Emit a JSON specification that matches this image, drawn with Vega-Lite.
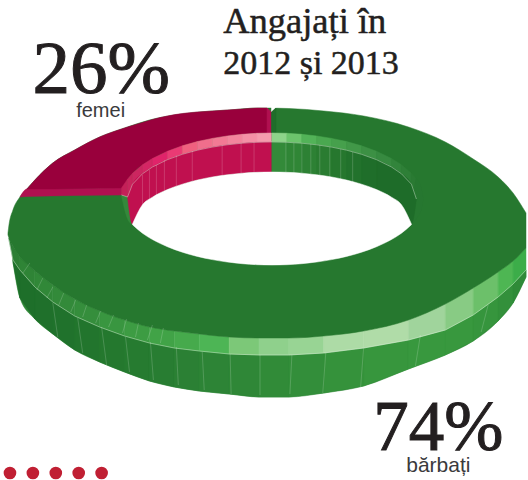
{"$schema":"https://vega.github.io/schema/vega-lite/v6.json","width":528,"height":480,"padding":0,"autosize":{"type":"fit","contains":"padding"},"background":"white","config":{"view":{"stroke":null}},
"layer":[
{"data":{"values":[
{"p":"w00","x":13,"y":260,"y2":262},{"p":"w00","x":20,"y":270,"y2":298},{"p":"w00","x":35,"y":287,"y2":319},{"p":"w00","x":53,"y":302,"y2":334},{"p":"w00","x":75,"y":316,"y2":350},{"p":"w00","x":100,"y":327,"y2":362},{"p":"w00","x":125,"y":336,"y2":372},{"p":"w00","x":150,"y":343,"y2":381},{"p":"w00","x":175,"y":348,"y2":387},{"p":"w00","x":200,"y":351,"y2":391},{"p":"w00","x":230,"y":354,"y2":394},{"p":"w00","x":260,"y":355,"y2":397},{"p":"w00","x":290,"y":355,"y2":397},{"p":"w00","x":325,"y":353,"y2":393},{"p":"w00","x":365,"y":348,"y2":386},{"p":"w00","x":410,"y":340,"y2":369},{"p":"w00","x":447,"y":330,"y2":355},{"p":"w00","x":475,"y":315,"y2":341},{"p":"w00","x":500,"y":297,"y2":321},{"p":"w00","x":515,"y":284,"y2":303},{"p":"w00","x":528,"y":270,"y2":277},
{"p":"w01","x":13,"y":260,"y2":262},{"p":"w01","x":20,"y":270,"y2":298},
{"p":"w02","x":20,"y":270,"y2":298},{"p":"w02","x":35,"y":287,"y2":319},
{"p":"w03","x":35,"y":287,"y2":319},{"p":"w03","x":53,"y":302,"y2":334},
{"p":"w04","x":53,"y":302,"y2":334},{"p":"w04","x":75,"y":316,"y2":350},
{"p":"w05","x":75,"y":316,"y2":350},{"p":"w05","x":100,"y":327,"y2":362},
{"p":"w06","x":100,"y":327,"y2":362},{"p":"w06","x":125,"y":336,"y2":372},
{"p":"w07","x":125,"y":336,"y2":372},{"p":"w07","x":150,"y":343,"y2":381},
{"p":"w08","x":150,"y":343,"y2":381},{"p":"w08","x":175,"y":348,"y2":387},
{"p":"w09","x":175,"y":348,"y2":387},{"p":"w09","x":200,"y":351,"y2":391},
{"p":"w10","x":200,"y":351,"y2":391},{"p":"w10","x":230,"y":354,"y2":394},
{"p":"w11","x":230,"y":354,"y2":394},{"p":"w11","x":260,"y":355,"y2":397},
{"p":"w12","x":260,"y":355,"y2":397},{"p":"w12","x":290,"y":355,"y2":397},
{"p":"w13","x":290,"y":355,"y2":397},{"p":"w13","x":325,"y":353,"y2":393},
{"p":"w14","x":325,"y":353,"y2":393},{"p":"w14","x":365,"y":348,"y2":386},
{"p":"w15","x":365,"y":348,"y2":386},{"p":"w15","x":410,"y":340,"y2":369},
{"p":"w16","x":410,"y":340,"y2":369},{"p":"w16","x":447,"y":330,"y2":355},
{"p":"w17","x":447,"y":330,"y2":355},{"p":"w17","x":475,"y":315,"y2":341},
{"p":"w18","x":475,"y":315,"y2":341},{"p":"w18","x":500,"y":297,"y2":321},
{"p":"w19","x":500,"y":297,"y2":321},{"p":"w19","x":515,"y":284,"y2":303},
{"p":"w20","x":515,"y":284,"y2":303},{"p":"w20","x":528,"y":270,"y2":277},
{"p":"b00","x":9,"y":238,"y2":240},{"p":"b00","x":13,"y":246,"y2":260},
{"p":"b01","x":13,"y":246,"y2":260},{"p":"b01","x":20,"y":257,"y2":270},
{"p":"b02","x":20,"y":257,"y2":270},{"p":"b02","x":35,"y":271,"y2":287},
{"p":"b03","x":35,"y":271,"y2":287},{"p":"b03","x":53,"y":285,"y2":302},
{"p":"b04","x":53,"y":285,"y2":302},{"p":"b04","x":75,"y":299,"y2":316},
{"p":"b05","x":75,"y":299,"y2":316},{"p":"b05","x":100,"y":311,"y2":327},
{"p":"b06","x":100,"y":311,"y2":327},{"p":"b06","x":125,"y":320,"y2":336},
{"p":"b07","x":125,"y":320,"y2":336},{"p":"b07","x":150,"y":327,"y2":343},
{"p":"b08","x":150,"y":327,"y2":343},{"p":"b08","x":175,"y":331,"y2":348},
{"p":"b09","x":175,"y":331,"y2":348},{"p":"b09","x":200,"y":334,"y2":351},
{"p":"b10","x":200,"y":334,"y2":351},{"p":"b10","x":230,"y":337,"y2":354},
{"p":"b11","x":230,"y":337,"y2":354},{"p":"b11","x":260,"y":338,"y2":355},
{"p":"b12","x":260,"y":338,"y2":355},{"p":"b12","x":290,"y":338,"y2":355},
{"p":"b13","x":290,"y":338,"y2":355},{"p":"b13","x":325,"y":336,"y2":353},
{"p":"b14","x":325,"y":336,"y2":353},{"p":"b14","x":365,"y":331,"y2":348},
{"p":"b15","x":365,"y":331,"y2":348},{"p":"b15","x":410,"y":320,"y2":340},
{"p":"b16","x":410,"y":320,"y2":340},{"p":"b16","x":447,"y":304,"y2":330},
{"p":"b17","x":447,"y":304,"y2":330},{"p":"b17","x":475,"y":288,"y2":315},
{"p":"b18","x":475,"y":288,"y2":315},{"p":"b18","x":500,"y":272,"y2":297},
{"p":"b19","x":500,"y":272,"y2":297},{"p":"b19","x":515,"y":261,"y2":284},
{"p":"b20","x":515,"y":261,"y2":284},{"p":"b20","x":528,"y":248,"y2":270},
{"p":"f","x":8,"y":233,"y2":235},{"p":"f","x":9,"y":225,"y2":238},{"p":"f","x":13,"y":210,"y2":246},{"p":"f","x":20,"y":197,"y2":257},{"p":"f","x":27,"y":189,"y2":264},{"p":"f","x":35,"y":180,"y2":271},{"p":"f","x":53,"y":163,"y2":285},{"p":"f","x":75,"y":150,"y2":299},{"p":"f","x":100,"y":137,"y2":311},{"p":"f","x":125,"y":128,"y2":320},{"p":"f","x":150,"y":120,"y2":327},{"p":"f","x":175,"y":115,"y2":331},{"p":"f","x":200,"y":112,"y2":334},{"p":"f","x":230,"y":110,"y2":337},{"p":"f","x":260,"y":108,"y2":338},{"p":"f","x":290,"y":108.5,"y2":338},{"p":"f","x":325,"y":111,"y2":336},{"p":"f","x":365,"y":116,"y2":331},{"p":"f","x":410,"y":127,"y2":320},{"p":"f","x":447,"y":142,"y2":304},{"p":"f","x":475,"y":159,"y2":288},{"p":"f","x":500,"y":177,"y2":272},{"p":"f","x":515,"y":193,"y2":261},{"p":"f","x":528,"y":213,"y2":248},
{"p":"s","x":20,"y":197,"y2":197},{"p":"s","x":27,"y":189,"y2":196.5},{"p":"s","x":122,"y":188,"y2":195},
{"p":"c","x":27,"y":189,"y2":189},{"p":"c","x":35,"y":180,"y2":189},{"p":"c","x":53,"y":163,"y2":189},{"p":"c","x":75,"y":150,"y2":188.5},{"p":"c","x":100,"y":137,"y2":188},{"p":"c","x":122,"y":129,"y2":188},{"p":"c","x":128,"y":127,"y2":179.2},{"p":"c","x":133,"y":125.5,"y2":173.3},{"p":"c","x":143,"y":122.5,"y2":164.8},{"p":"c","x":153,"y":119.5,"y2":158.5},{"p":"c","x":168,"y":116,"y2":151.3},{"p":"c","x":183,"y":113.5,"y2":145.8},{"p":"c","x":198,"y":112,"y2":141.6},{"p":"c","x":213,"y":111,"y2":138.4},{"p":"c","x":228,"y":110,"y2":136},{"p":"c","x":243,"y":109,"y2":134.3},{"p":"c","x":258,"y":108,"y2":133.3},{"p":"c","x":268,"y":108,"y2":133},
{"p":"n","x":272.5,"y":106,"y2":112},{"p":"n","x":277,"y":106,"y2":107.5},
{"p":"k","x":268,"y":108,"y2":133},{"p":"k","x":272.5,"y":112,"y2":141},
{"p":"g","x":272.5,"y":112,"y2":141},{"p":"g","x":277,"y":108,"y2":133},
{"p":"i01","x":122,"y":188,"y2":195},{"p":"i01","x":128,"y":179.2,"y2":197},
{"p":"i02","x":128,"y":179.2,"y2":197},{"p":"i02","x":133,"y":173.3,"y2":184.2},
{"p":"i03","x":133,"y":173.3,"y2":184.2},{"p":"i03","x":143,"y":164.8,"y2":173.8},
{"p":"i04","x":143,"y":164.8,"y2":173.8},{"p":"i04","x":153,"y":158.5,"y2":167},
{"p":"i05","x":153,"y":158.5,"y2":167},{"p":"i05","x":168,"y":151.3,"y2":159.7},
{"p":"i06","x":168,"y":151.3,"y2":159.7},{"p":"i06","x":183,"y":145.8,"y2":154.3},
{"p":"i07","x":183,"y":145.8,"y2":154.3},{"p":"i07","x":198,"y":141.6,"y2":150.2},
{"p":"i08","x":198,"y":141.6,"y2":150.2},{"p":"i08","x":213,"y":138.4,"y2":147.1},
{"p":"i09","x":213,"y":138.4,"y2":147.1},{"p":"i09","x":228,"y":136,"y2":144.8},
{"p":"i10","x":228,"y":136,"y2":144.8},{"p":"i10","x":243,"y":134.3,"y2":143.2},
{"p":"i11","x":243,"y":134.3,"y2":143.2},{"p":"i11","x":258,"y":133.3,"y2":142.3},
{"p":"i12","x":258,"y":133.3,"y2":142.3},{"p":"i12","x":272.5,"y":133,"y2":142},
{"p":"i13","x":273,"y":133,"y2":142},{"p":"i13","x":288,"y":133.3,"y2":142.3},
{"p":"i14","x":288,"y":133.3,"y2":142.3},{"p":"i14","x":303,"y":134.3,"y2":143.2},
{"p":"i15","x":303,"y":134.3,"y2":143.2},{"p":"i15","x":318,"y":136,"y2":144.8},
{"p":"i16","x":318,"y":136,"y2":144.8},{"p":"i16","x":333,"y":138.4,"y2":147.1},
{"p":"i17","x":333,"y":138.4,"y2":147.1},{"p":"i17","x":348,"y":141.6,"y2":150.2},
{"p":"i18","x":348,"y":141.6,"y2":150.2},{"p":"i18","x":363,"y":145.8,"y2":154.3},
{"p":"i19","x":363,"y":145.8,"y2":154.3},{"p":"i19","x":378,"y":151.3,"y2":159.7},
{"p":"i20","x":378,"y":151.3,"y2":159.7},{"p":"i20","x":393,"y":158.5,"y2":167},
{"p":"i21","x":393,"y":158.5,"y2":167},{"p":"i21","x":403,"y":164.8,"y2":173.8},
{"p":"i22","x":403,"y":164.8,"y2":173.8},{"p":"i22","x":413,"y":173.3,"y2":184.2},
{"p":"i23","x":413,"y":173.3,"y2":184.2},{"p":"i23","x":418,"y":179.2,"y2":199},
{"p":"x","x":413,"y":224,"y2":224.7},{"p":"x","x":418,"y":179.2,"y2":218.8},{"p":"x","x":423,"y":188.3,"y2":209.7},{"p":"x","x":425,"y":199,"y2":199},
{"p":"l","x":122,"y":196,"y2":196},{"p":"l","x":128,"y":197,"y2":218.8},{"p":"l","x":133,"y":222,"y2":224.7},
{"p":"j1","x":128,"y":197,"y2":197},{"p":"j1","x":133,"y":184.2,"y2":224},{"p":"j1","x":143,"y":173.8,"y2":204.7},{"p":"j1","x":153,"y":167,"y2":197.2},{"p":"j1","x":168,"y":159.7,"y2":189.6},{"p":"j1","x":183,"y":154.3,"y2":184.2},{"p":"j1","x":198,"y":150.2,"y2":180.1},{"p":"j1","x":213,"y":147.1,"y2":177},{"p":"j1","x":228,"y":144.8,"y2":174.8},{"p":"j1","x":243,"y":143.2,"y2":173.2},{"p":"j1","x":258,"y":142.3,"y2":172.3},{"p":"j1","x":272.5,"y":142,"y2":172},
{"p":"j2","x":273,"y":142,"y2":172},{"p":"j2","x":288,"y":142.3,"y2":172.3},
{"p":"j3","x":288,"y":142.3,"y2":172.3},{"p":"j3","x":303,"y":143.2,"y2":173.2},
{"p":"j4","x":303,"y":143.2,"y2":173.2},{"p":"j4","x":318,"y":144.8,"y2":174.8},
{"p":"j5","x":318,"y":144.8,"y2":174.8},{"p":"j5","x":333,"y":147.1,"y2":177},
{"p":"j6","x":333,"y":147.1,"y2":177},{"p":"j6","x":348,"y":150.2,"y2":180.1},
{"p":"j7","x":348,"y":150.2,"y2":180.1},{"p":"j7","x":363,"y":154.3,"y2":184.2},
{"p":"j8","x":363,"y":154.3,"y2":184.2},{"p":"j8","x":378,"y":159.7,"y2":189.6},
{"p":"j9","x":378,"y":159.7,"y2":189.6},{"p":"j9","x":393,"y":167,"y2":197.2},{"p":"j9","x":403,"y":173.8,"y2":204.7},{"p":"j9","x":413,"y":184.2,"y2":224},{"p":"j9","x":418,"y":199,"y2":199},
{"p":"h","x":133,"y":224,"y2":224.7},{"p":"h","x":143,"y":204.7,"y2":233.2},{"p":"h","x":153,"y":197.2,"y2":239.5},{"p":"h","x":168,"y":189.6,"y2":246.7},{"p":"h","x":183,"y":184.2,"y2":252.2},{"p":"h","x":198,"y":180.1,"y2":256.4},{"p":"h","x":213,"y":177,"y2":259.6},{"p":"h","x":228,"y":174.8,"y2":262},{"p":"h","x":243,"y":173.2,"y2":263.7},{"p":"h","x":258,"y":172.3,"y2":264.7},{"p":"h","x":273,"y":172,"y2":265},{"p":"h","x":288,"y":172.3,"y2":264.7},{"p":"h","x":303,"y":173.2,"y2":263.7},{"p":"h","x":318,"y":174.8,"y2":262},{"p":"h","x":333,"y":177,"y2":259.6},{"p":"h","x":348,"y":180.1,"y2":256.4},{"p":"h","x":363,"y":184.2,"y2":252.2},{"p":"h","x":378,"y":189.6,"y2":246.7},{"p":"h","x":393,"y":197.2,"y2":239.5},{"p":"h","x":403,"y":204.7,"y2":233.2},{"p":"h","x":413,"y":224,"y2":224.7}
]},
"layer":[
{"mark":{"type":"area","strokeWidth":0.5,"interpolate":"monotone"},
"encoding":{
"x":{"field":"x","type":"quantitative","axis":null,"scale":{"domain":[0,528],"nice":false,"zero":false}},
"y":{"field":"y","type":"quantitative","axis":null,"stack":null,"scale":{"domain":[480,0],"nice":false,"zero":false}},
"y2":{"field":"y2"},
"fill":{"field":"p","type":"nominal","legend":null,"scale":{"domain":["w00","w01","w02","w03","w04","w05","w06","w07","w08","w09","w10","w11","w12","w13","w14","w15","w16","w17","w18","w19","w20","b00","b01","b02","b03","b04","b05","b06","b07","b08","b09","b10","b11","b12","b13","b14","b15","b16","b17","b18","b19","b20","f","s","c","n","k","g","i01","i02","i03","i04","i05","i06","i07","i08","i09","i10","i11","i12","i13","i14","i15","i16","i17","i18","i19","i20","i21","i22","i23","x","l","j1","j2","j3","j4","j5","j6","j7","j8","j9","h"],
"range":["#2f8737","#1e6f2a","#1e6f2a","#1f702b","#20722c","#22752d","#24782e","#267b30","#287d32","#2b8034","#2d8436","#2f8737","#318b38","#338e3a","#35923b","#37963d","#38983e","#38983e","#36953d","#33903b","#2f8a38","#2a7a33","#2d7f35","#2f8436","#318838","#338a3a","#358e3c","#399640","#3d9c43","#41a347","#46aa4c","#4db555","#7cc878","#8fd08c","#98d494","#addba6","#b0dca8","#a0d49c","#88cb84","#6cc06a","#4eb653","#3cad49","#26782f","#b01050","#99003c","#ffffff","#b01050","#1f6d2a","#c42058","#c8245c","#cc2660","#d42664","#e0246a","#ea3a74","#f0607f","#f06e8c","#f27a94","#f3849c","#f490a6","#f59cae","#8ed48a","#6cc46c","#52b358","#4aa850","#46a04c","#419848","#3c9044","#378a40","#32843b","#2e7f37","#2a7a33","#267730","#35883b","#c0104f","#338a39","#308636","#2d8134","#2a7c31","#26772e","#22722c","#1f6e2a","#1e6c29","#ffffff"]}},
"stroke":{"field":"p","type":"nominal","legend":null,"scale":{"domain":["w00","w01","w02","w03","w04","w05","w06","w07","w08","w09","w10","w11","w12","w13","w14","w15","w16","w17","w18","w19","w20","b00","b01","b02","b03","b04","b05","b06","b07","b08","b09","b10","b11","b12","b13","b14","b15","b16","b17","b18","b19","b20","f","s","c","n","k","g","i01","i02","i03","i04","i05","i06","i07","i08","i09","i10","i11","i12","i13","i14","i15","i16","i17","i18","i19","i20","i21","i22","i23","x","l","j1","j2","j3","j4","j5","j6","j7","j8","j9","h"],
"range":["#2f8737","#1e6f2a","#1e6f2a","#1f702b","#20722c","#22752d","#24782e","#267b30","#287d32","#2b8034","#2d8436","#2f8737","#318b38","#338e3a","#35923b","#37963d","#38983e","#38983e","#36953d","#33903b","#2f8a38","#2a7a33","#2d7f35","#2f8436","#318838","#338a3a","#358e3c","#399640","#3d9c43","#41a347","#46aa4c","#4db555","#7cc878","#8fd08c","#98d494","#addba6","#b0dca8","#a0d49c","#88cb84","#6cc06a","#4eb653","#3cad49","#26782f","#b01050","#99003c","#ffffff","#b01050","#1f6d2a","#c42058","#c8245c","#cc2660","#d42664","#e0246a","#ea3a74","#f0607f","#f06e8c","#f27a94","#f3849c","#f490a6","#f59cae","#8ed48a","#6cc46c","#52b358","#4aa850","#46a04c","#419848","#3c9044","#378a40","#32843b","#2e7f37","#2a7a33","#267730","#35883b","#c0104f","#338a39","#308636","#2d8134","#2a7c31","#26772e","#22722c","#1f6e2a","#1e6c29","#ffffff"]}},
"detail":{"field":"p"}}},
{"transform":[{"filter":"substring(datum.p,0,1)=='b'||substring(datum.p,0,1)=='i'"},{"calculate":"substring(datum.p,0,1)=='b'?'outer':'inner'","as":"edge"}],
"mark":{"type":"line","stroke":"#e8f5e4","strokeWidth":0.7,"opacity":0.6},
"encoding":{"detail":{"field":"edge"},"x":{"field":"x","type":"quantitative","axis":null,"scale":{"domain":[0,528],"nice":false,"zero":false}},"y":{"field":"y2","type":"quantitative","axis":null,"scale":{"domain":[480,0],"nice":false,"zero":false}}}}
]},
{"data":{"values":[
{"x":53,"y":303,"x2":58,"y2":337},{"x":78,"y":318,"x2":83,"y2":353},{"x":102,"y":327,"x2":107,"y2":365},{"x":126,"y":337,"x2":130,"y2":372},{"x":151,"y":342,"x2":154,"y2":380},{"x":177,"y":347,"x2":179,"y2":385},{"x":203,"y":352,"x2":205,"y2":390},{"x":231,"y":354,"x2":232,"y2":394},{"x":261,"y":355,"x2":261,"y2":395},{"x":293,"y":355,"x2":291,"y2":394},{"x":327,"y":353,"x2":324,"y2":393},{"x":365,"y":348,"x2":362,"y2":387},{"x":422,"y":335,"x2":417,"y2":366},{"x":490,"y":305,"x2":483,"y2":332},
{"x":255,"y":142.4,"x2":255,"y2":172.3},{"x":242,"y":143.2,"x2":242,"y2":173.2},{"x":223,"y":145.5,"x2":223,"y2":175.5},{"x":193,"y":151,"x2":193,"y2":181},{"x":177,"y":155.5,"x2":177,"y2":186},{"x":165,"y":160,"x2":165,"y2":190.5},{"x":157,"y":165,"x2":157,"y2":195.5},{"x":150,"y":170,"x2":150,"y2":201},{"x":143,"y":175,"x2":143,"y2":207},
{"x":287,"y":142.3,"x2":287,"y2":172.3},{"x":295,"y":142.8,"x2":295,"y2":172.8},{"x":303,"y":143.2,"x2":303,"y2":173.2},{"x":312,"y":144,"x2":312,"y2":174},{"x":321,"y":145,"x2":321,"y2":175},{"x":331,"y":147,"x2":331,"y2":177},{"x":342,"y":149,"x2":342,"y2":179},{"x":354,"y":152,"x2":354,"y2":182},
{"x":30,"y":263,"x2":23,"y2":273},{"x":43,"y":278,"x2":37,"y2":290},{"x":53,"y":287,"x2":47,"y2":298},{"x":64,"y":293,"x2":59,"y2":305},{"x":76,"y":300,"x2":71,"y2":312},{"x":87,"y":305,"x2":83,"y2":317},{"x":101,"y":311,"x2":96,"y2":323},{"x":114,"y":315,"x2":109,"y2":327},{"x":127,"y":319,"x2":123,"y2":333},{"x":139,"y":323,"x2":136,"y2":337},{"x":153,"y":325,"x2":148,"y2":340},{"x":164,"y":328,"x2":161,"y2":343}
]},
"mark":{"type":"rule","stroke":"#ffffff","strokeWidth":0.8,"opacity":0.22},
"encoding":{"x":{"field":"x","type":"quantitative","axis":null,"scale":{"domain":[0,528],"nice":false,"zero":false}},"y":{"field":"y","type":"quantitative","axis":null,"scale":{"domain":[480,0],"nice":false,"zero":false}},"x2":{"field":"x2"},"y2":{"field":"y2"}}},
{"data":{"values":[{"t":"Angajați în","x":224,"y":33}]},
"mark":{"type":"text","font":"Liberation Serif","fontSize":36.5,"align":"left","baseline":"alphabetic","fill":"#231f20","stroke":"#231f20","strokeWidth":0.5},
"encoding":{"text":{"field":"t"},"x":{"field":"x","type":"quantitative","axis":null,"scale":{"domain":[0,528],"nice":false,"zero":false}},"y":{"field":"y","type":"quantitative","axis":null,"scale":{"domain":[480,0],"nice":false,"zero":false}}}},
{"data":{"values":[{"t":"2012 și 2013","x":224,"y":74}]},
"mark":{"type":"text","font":"Liberation Serif","fontSize":34,"align":"left","baseline":"alphabetic","fill":"#231f20","stroke":"#231f20","strokeWidth":0.5},
"encoding":{"text":{"field":"t"},"x":{"field":"x","type":"quantitative","axis":null,"scale":{"domain":[0,528],"nice":false,"zero":false}},"y":{"field":"y","type":"quantitative","axis":null,"scale":{"domain":[480,0],"nice":false,"zero":false}}}},
{"data":{"values":[{"t":"26%","x":101.5,"y":93}]},
"mark":{"type":"text","font":"Liberation Serif","fontSize":75,"align":"center","baseline":"alphabetic","fill":"#231f20","stroke":"#231f20","strokeWidth":1},
"encoding":{"text":{"field":"t"},"x":{"field":"x","type":"quantitative","axis":null,"scale":{"domain":[0,528],"nice":false,"zero":false}},"y":{"field":"y","type":"quantitative","axis":null,"scale":{"domain":[480,0],"nice":false,"zero":false}}}},
{"data":{"values":[{"t":"74%","x":440,"y":450}]},
"mark":{"type":"text","font":"Liberation Serif","fontSize":71,"align":"center","baseline":"alphabetic","fill":"#231f20","stroke":"#231f20","strokeWidth":1},
"encoding":{"text":{"field":"t"},"x":{"field":"x","type":"quantitative","axis":null,"scale":{"domain":[0,528],"nice":false,"zero":false}},"y":{"field":"y","type":"quantitative","axis":null,"scale":{"domain":[480,0],"nice":false,"zero":false}}}},
{"data":{"values":[{"t":"femei","x":101,"y":117}]},
"mark":{"type":"text","font":"Liberation Sans","fontSize":20,"align":"center","baseline":"alphabetic","fill":"#3a3a3c"},
"encoding":{"text":{"field":"t"},"x":{"field":"x","type":"quantitative","axis":null,"scale":{"domain":[0,528],"nice":false,"zero":false}},"y":{"field":"y","type":"quantitative","axis":null,"scale":{"domain":[480,0],"nice":false,"zero":false}}}},
{"data":{"values":[{"t":"bărbați","x":440,"y":472}]},
"mark":{"type":"text","font":"Liberation Sans","fontSize":21,"align":"center","baseline":"alphabetic","fill":"#3a3a3c"},
"encoding":{"text":{"field":"t"},"x":{"field":"x","type":"quantitative","axis":null,"scale":{"domain":[0,528],"nice":false,"zero":false}},"y":{"field":"y","type":"quantitative","axis":null,"scale":{"domain":[480,0],"nice":false,"zero":false}}}},
{"data":{"values":[{"x":10,"y":473},{"x":33,"y":473},{"x":56,"y":473},{"x":79,"y":473},{"x":102,"y":473}]},
"mark":{"type":"point","filled":true,"fill":"#c01f33","opacity":1,"size":160},
"encoding":{"x":{"field":"x","type":"quantitative","axis":null,"scale":{"domain":[0,528],"nice":false,"zero":false}},"y":{"field":"y","type":"quantitative","axis":null,"scale":{"domain":[480,0],"nice":false,"zero":false}}}}
]}
